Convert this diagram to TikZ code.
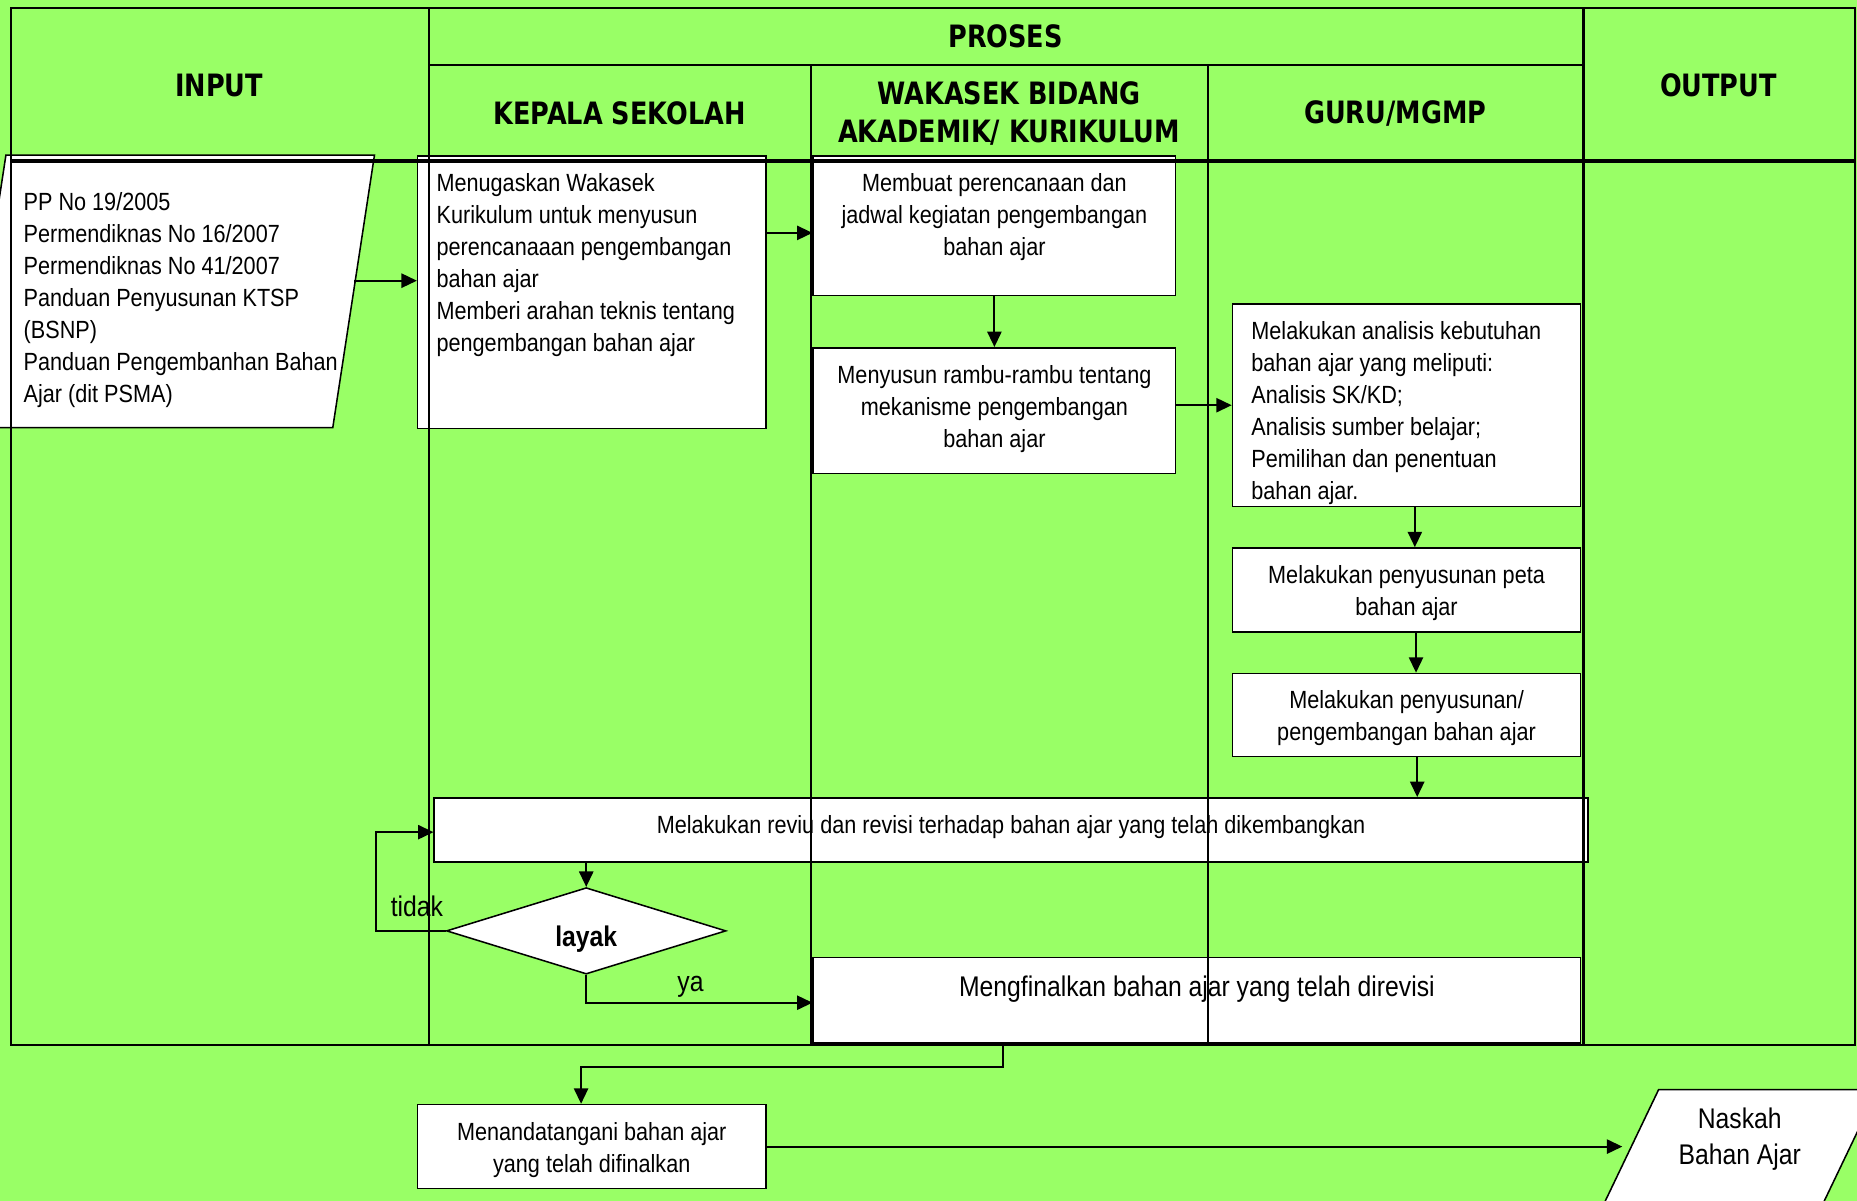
\documentclass[tikz,border=0pt]{standalone}
\usepackage{fontspec}
\setmainfont{Liberation Sans}[FakeStretch=0.87]
\newfontfamily\headfont{DejaVu Sans}[FakeStretch=0.83]
\usetikzlibrary{shapes.geometric,arrows.meta}
\definecolor{laneGreen}{HTML}{99FF66}
% box text: [first baseline]{width}{height}{alignment}{lines}
\newcommand{\cell}[5][30pt]{\parbox[c][#3][t]{#2}{#4\rule{0pt}{#1}#5}}
\newcommand{\lpad}[1][16pt]{\raggedright\leftskip=#1\relax}
\begin{document}
\begin{tikzpicture}[x=1pt, y=-1pt, line join=miter,
			>={Triangle[length=13pt,width=12pt]},
			procbox/.style={draw, line width=1.3pt, fill=white, inner sep=0pt,
				anchor=north west, font=\fontsize{21}{27}\selectfont},
			iobox/.style={trapezium, draw, line width=1.3pt, fill=white,
				inner sep=0pt, font=\fontsize{21}{27}\selectfont},
			decision/.style={diamond, aspect=3, draw, line width=1.3pt, fill=white,
				inner sep=0pt, minimum width=236pt, minimum height=73pt,
				text height=26pt, text depth=0pt,
				font=\bfseries\fontsize{24}{28}\selectfont},
			lanehead/.style={font=\headfont\bfseries\fontsize{26}{32}\selectfont,
				align=center},
			lane/.style={line width=1.8pt},
			flow/.style={->, line width=1.6pt},
			lbl/.style={font=\fontsize{24}{28}\selectfont, inner sep=0pt}]
			\def \xl{9}
			\def \xr{1566}
			\def \xin{362}
			\def \xwk{685}
			\def \xgr{1020}
			\def \xout{1337}
			\def \ytop{7}
			\def \ysub{55}
			\def \yhead{136}
			\def \ybot{882}
			\useasboundingbox (0,0) rectangle (1568,1014);
			\fill[laneGreen] (0,0) rectangle (1568,1014);
			% boxes
			\node[iobox, trapezium left angle=81.3, trapezium right angle=98.7]
				(input) at (143,246) {\cell[47pt]{276pt}{230pt}{\lpad[15pt]}{PP No 19/2005\\
					Permendiknas No 16/2007\\Permendiknas No 41/2007\\
					Panduan Penyusunan KTSP\\(BSNP)\\
					\mbox{Panduan Pengembanhan Bahan}\\Ajar (dit PSMA)}};
			\node[procbox] (kepala) at (352,131) {\cell{294pt}{230pt}{\lpad}{Menugaskan Wakasek\\
					Kurikulum untuk menyusun\\perencanaaan pengembangan\\bahan ajar\\
					Memberi arahan teknis tentang\\pengembangan bahan ajar}};
			\node[procbox] (wak1) at (686,131) {\cell{306pt}{118pt}{\centering}{Membuat perencanaan dan\\
					jadwal kegiatan pengembangan\\bahan ajar}};
			\node[procbox] (wak2) at (686,293) {\cell{306pt}{106pt}{\centering}{Menyusun rambu-rambu tentang\\
					mekanisme pengembangan\\bahan ajar}};
			\node[procbox] (guru1) at (1040,256) {\cell{294pt}{171pt}{\lpad}{Melakukan analisis kebutuhan\\
					bahan ajar yang meliputi:\\Analisis SK/KD;\\Analisis sumber belajar;\\
					Pemilihan dan penentuan\\bahan ajar.}};
			\node[procbox] (guru2) at (1040,462) {\cell{294pt}{71pt}{\centering}{Melakukan penyusunan peta\\bahan ajar}};
			\node[procbox] (guru3) at (1040,568) {\cell{294pt}{70pt}{\centering}{Melakukan penyusunan/\\pengembangan bahan ajar}};
			\node[procbox] (review) at (366,673) {\cell{974pt}{54pt}{\centering}{Melakukan reviu dan revisi terhadap bahan ajar yang telah dikembangkan}};
			\node[decision] (layak) at (495,786) {layak};
			\node[procbox, font=\fontsize{24}{30}\selectfont] (final) at (686,808)
				{\cell[33pt]{648pt}{72pt}{\centering}{Mengfinalkan bahan ajar yang telah direvisi}};
			\node[procbox] (sign) at (352,932) {\cell{294pt}{71pt}{\centering}{Menandatangani bahan ajar\\yang telah difinalkan}};
			\node[iobox, trapezium left angle=64.4, trapezium right angle=115.6,
				font=\fontsize{24}{30}\selectfont] (output) at (1469,970)
				{\cell[33pt]{137pt}{100pt}{\centering}{Naskah\\Bahan Ajar}};
			% lanes
			\draw[lane] (\xl,\ytop) rectangle (\xr,\ybot);
			\draw[lane] (\xin,\ytop)--(\xin,\ybot) (\xout,\ytop)--(\xout,\ybot)
				(\xwk,\ysub)--(\xwk,\ybot) (\xgr,\ysub)--(\xgr,\ybot)
				(\xin,\ysub)--(\xout,\ysub);
			\draw[line width=3.5pt] (\xl,\yhead)--(\xr,\yhead);
			\node[lanehead] (hin) at (185,72) {INPUT};
			\node[lanehead] (hpro) at (849,31) {PROSES};
			\node[lanehead] (hks) at (523,96) {KEPALA SEKOLAH};
			\node[lanehead] (hwk) at (852,96) {WAKASEK BIDANG\\AKADEMIK/ KURIKULUM};
			\node[lanehead] (hgr) at (1178,96) {GURU/MGMP};
			\node[lanehead] (hout) at (1451,72) {OUTPUT};
			% flow
			\draw[flow] ([yshift=9pt]input.east) -- ([yshift=9pt]input.east -| kepala.west);
			\draw[flow] ([yshift=-6pt]wak1.west -| kepala.east) -- ([yshift=-6pt]wak1.west);
			\draw[flow] (wak1.south) -- (wak2.north);
			\draw[flow] (guru1.west -| wak2.east) -- (guru1.west);
			\draw[flow] ([xshift=7pt]guru1.south) -- ([xshift=7pt]guru2.north);
			\draw[flow] ([xshift=8pt]guru2.south) -- ([xshift=8pt]guru3.north);
			\draw[flow] ([xshift=9pt]guru3.south) -- ([xshift=9pt]guru3.south |- review.north);
			\draw[flow] (review.south -| layak.north) -- (layak.north);
			\draw[flow] (layak.west) -- ++(-59,0) |- ([yshift=-2pt]review.west);
			\draw[flow] (layak.south) |- ([yshift=-2pt]final.west);
			\draw[flow] ([xshift=-164pt]final.south) -- ++(0,20) -| ([xshift=-9pt]sign.north);
			\draw[flow, shorten >=6pt] (sign.east) -- (sign.east -| output.west);
			\node[lbl] (tidak) at (352,765) {tidak};
			\node[lbl] (ya) at (583,833) {ya};
		\end{tikzpicture}
\end{document}
